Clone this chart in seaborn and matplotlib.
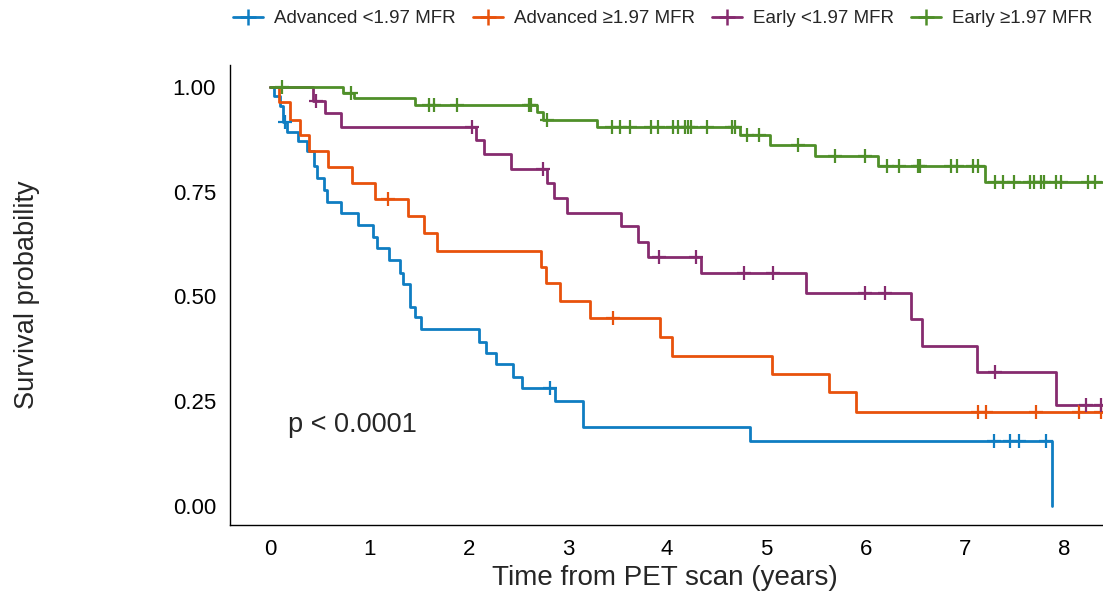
import numpy as np
import pandas as pd
import matplotlib
matplotlib.use("Agg")
import matplotlib.pyplot as plt
from matplotlib.lines import Line2D
import seaborn as sns

groups = ["Advanced <1.97 MFR", "Advanced \u22651.97 MFR", "Early <1.97 MFR", "Early \u22651.97 MFR"]
colors = ["#0F7DC2", "#E8520C", "#862B6F", "#4F8F29"]

# Kaplan-Meier step data (event times and survival after each event)
adv_low_t = [0.04, 0.10, 0.13, 0.17, 0.28, 0.37, 0.44, 0.475, 0.54, 0.57, 0.715, 0.89, 1.04, 1.08,
             1.20, 1.31, 1.34, 1.41, 1.46, 1.52, 2.10, 2.18, 2.28, 2.45, 2.54, 2.87, 3.15, 4.83, 7.88]
adv_low_s = [0.977, 0.955, 0.915, 0.893, 0.870, 0.846, 0.810, 0.783, 0.754, 0.726, 0.698, 0.671, 0.643, 0.615,
             0.587, 0.557, 0.530, 0.476, 0.451, 0.422, 0.392, 0.366, 0.339, 0.309, 0.281, 0.251, 0.189, 0.156, 0.0]
adv_low_cens = [0.148, 2.82, 7.29, 7.45, 7.54, 7.82]
adv_low_end = 7.88

adv_high_t = [0.087, 0.20, 0.305, 0.396, 0.58, 0.83, 1.06, 1.39, 1.55, 1.68, 2.73, 2.78, 2.92, 3.22,
              3.93, 4.05, 5.06, 5.63, 5.90]
adv_high_s = [0.963, 0.921, 0.885, 0.846, 0.808, 0.770, 0.733, 0.693, 0.651, 0.609, 0.571, 0.531, 0.488, 0.449,
              0.404, 0.359, 0.314, 0.271, 0.225]
adv_high_cens = [1.19, 3.45, 7.13, 7.21, 7.72, 8.15, 8.37]
adv_high_end = 8.45

early_low_t = [0.43, 0.55, 0.72, 2.07, 2.16, 2.43, 2.79, 2.86, 2.99, 3.54, 3.71, 3.81, 4.34, 5.40,
               6.46, 6.57, 7.12, 7.92]
early_low_s = [0.965, 0.937, 0.905, 0.873, 0.840, 0.804, 0.770, 0.736, 0.700, 0.667, 0.631, 0.595, 0.557, 0.509,
               0.446, 0.383, 0.321, 0.240]
early_low_cens = [0.46, 2.03, 2.75, 3.92, 4.29, 4.77, 5.07, 5.99, 6.19, 7.30, 8.22, 8.37]
early_low_end = 8.45

early_high_t = [0.74, 0.85, 1.46, 2.69, 2.75, 3.29, 4.73, 5.04, 5.49, 6.12, 7.20]
early_high_s = [0.985, 0.973, 0.957, 0.941, 0.921, 0.905, 0.885, 0.862, 0.836, 0.810, 0.774]
early_high_cens = [0.12, 0.82, 1.60, 1.65, 1.88, 2.61, 2.63, 2.79, 3.44, 3.53, 3.63, 3.84, 3.91,
                   4.06, 4.11, 4.18, 4.21, 4.24, 4.40, 4.65, 4.68, 4.80, 4.93, 5.32, 5.69, 5.99,
                   6.21, 6.34, 6.53, 6.55, 6.86, 6.92, 7.08, 7.13, 7.30, 7.38, 7.49, 7.65, 7.70,
                   7.77, 7.80, 7.92, 7.97, 8.24, 8.31]
early_high_end = 8.45

p_text = "p < 0.0001"
x_ticks = [0, 1, 2, 3, 4, 5, 6, 7, 8]
y_ticks = [0.0, 0.25, 0.50, 0.75, 1.00]
y_tick_labels = ["0.00", "0.25", "0.50", "0.75", "1.00"]

series = [
    (adv_low_t, adv_low_s, adv_low_cens, adv_low_end),
    (adv_high_t, adv_high_s, adv_high_cens, adv_high_end),
    (early_low_t, early_low_s, early_low_cens, early_low_end),
    (early_high_t, early_high_s, early_high_cens, early_high_end),
]

line_rows = []
cens_rows = []
for g, (t, s, c, end) in zip(groups, series):
    tt = [0.0] + list(t)
    ss = [1.0] + list(s)
    if end > tt[-1]:
        tt.append(end)
        ss.append(ss[-1])
    for a, b in zip(tt, ss):
        line_rows.append((g, a, b))
    ev_t = np.array([0.0] + list(t))
    ev_s = np.array([1.0] + list(s))
    for ct in c:
        idx = np.searchsorted(ev_t, ct, side="right") - 1
        cens_rows.append((g, ct, ev_s[idx]))

lines_df = pd.DataFrame(line_rows, columns=["group", "time", "surv"])
cens_df = pd.DataFrame(cens_rows, columns=["group", "time", "surv"])

sns.set_style("white")
plt.rcParams["font.family"] = ["Liberation Sans", "DejaVu Sans"]

fig = plt.figure(figsize=(11.03, 6.0), dpi=100)
ax = fig.add_axes([230 / 1103, 75 / 600, 873 / 1103, 460 / 600])

palette = dict(zip(groups, colors))
for g in groups:
    sub = lines_df[lines_df.group == g]
    sns.lineplot(data=sub, x="time", y="surv", color=palette[g], drawstyle="steps-post",
                 estimator=None, sort=False, linewidth=2.0, legend=False, ax=ax)
    csub = cens_df[cens_df.group == g]
    sns.scatterplot(data=csub, x="time", y="surv", color=palette[g], marker="+", s=110,
                    linewidth=1.6, legend=False, ax=ax, zorder=3)

ax.set_xlim(-0.403, 8.39)
ax.set_ylim(-0.045, 1.052)
ax.set_xticks(x_ticks)
ax.set_yticks(y_ticks)
ax.set_yticklabels(y_tick_labels)
ax.tick_params(axis="both", labelsize=16, colors="black", direction="out", length=5, width=1, pad=5)

for side in ["top", "right"]:
    ax.spines[side].set_visible(False)
for side in ["left", "bottom"]:
    ax.spines[side].set_color("black")
    ax.spines[side].set_linewidth(1.0)

ax.set_xlabel("Time from PET scan (years)", fontsize=20)
ax.set_ylabel("Survival probability", fontsize=19.5)
ax.xaxis.set_label_coords(0.498, -0.088)
ax.yaxis.set_label_coords(-0.218, 0.5)

ax.text(0.18, 0.193, p_text, fontsize=19.5, ha="left", va="center")

handles = [Line2D([0], [0], color=c, marker="+", markersize=12, markeredgewidth=1.8, linewidth=2)
           for c in colors]
fig.legend(handles, groups, loc="upper right", bbox_to_anchor=(1.0, 1.0), ncol=4, frameon=False,
           fontsize=13.5, handlelength=1.6, handletextpad=0.6, columnspacing=0.9, borderaxespad=0.15)

fig.savefig("out.png", dpi=100)
